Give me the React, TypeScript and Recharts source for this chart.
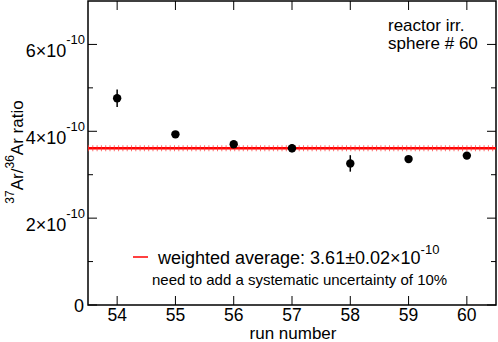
import React from 'react';
import { ScatterChart, Scatter, XAxis, YAxis, ErrorBar, ReferenceLine, ReferenceArea } from 'recharts';

// ratio values are in units of 1e-10
const runs = [54, 55, 56, 57, 58, 59, 60];
const ratios = [4.76, 3.93, 3.70, 3.61, 3.26, 3.36, 3.44];
const errors = [0.2, 0.04, 0.04, 0.09, 0.19, 0.04, 0.04];
const xTicks = [54, 55, 56, 57, 58, 59, 60];
const yTicks = [0, 2, 4, 6];
const yMinorTicks = [1, 3, 5];
const average = 3.61;

const data = runs.map((r, i) => ({ run: r, ratio: ratios[i], err: errors[i] }));

const FONT = '"Liberation Sans", Arial, Helvetica, sans-serif';

const XTick = (props: any) => {
    const { x, y, payload } = props;
    return (
        <text x={x} y={y + 15.5} textAnchor="middle" fontSize={17.5} fontFamily={FONT} fill="#000">
            {payload.value}
        </text>
    );
};

const YTick = (props: any) => {
    const { x, y, payload } = props;
    if (payload.value === 0) {
        return (
            <text x={x - 4} y={y + 6.5} textAnchor="end" fontSize={18} fontFamily={FONT} fill="#000">0</text>
        );
    }
    return (
        <text x={x - 3} y={y + 12.5} textAnchor="end" fontSize={18} fontFamily={FONT} fill="#000">
            {payload.value}×10<tspan dy={-13} fontSize={13}>-10</tspan>
        </text>
    );
};

// inward tick marks on both sides of the frame
const yTickMark = (len: number) => (p: any) => {
    const left = Math.min(p.x1, p.x2);
    const right = Math.max(p.x1, p.x2);
    return (
        <g>
            <line x1={left} x2={left + len} y1={p.y1} y2={p.y1} stroke="#000" strokeWidth={1} />
            <line x1={right - len} x2={right} y1={p.y1} y2={p.y1} stroke="#000" strokeWidth={1} />
        </g>
    );
};

const xTickMark = (len: number) => (p: any) => {
    const top = Math.min(p.y1, p.y2);
    const bottom = Math.max(p.y1, p.y2);
    return (
        <g>
            <line x1={p.x1} x2={p.x1} y1={bottom - len} y2={bottom} stroke="#000" strokeWidth={1} />
            <line x1={p.x1} x2={p.x1} y1={top} y2={top + len} stroke="#000" strokeWidth={1} />
        </g>
    );
};

const averageLine = (p: any) => (
    <g>
        <line x1={p.x1} x2={p.x2} y1={p.y1} y2={p.y2} stroke="#ff0000" strokeWidth={2.5} />
        <line x1={p.x1} x2={p.x2} y1={p.y1} y2={p.y2} stroke="#ff3030" strokeWidth={6} strokeDasharray="1 3.3" opacity={0.7} />
    </g>
);

const dot = (p: any) => <circle cx={p.cx} cy={p.cy} r={4.2} fill="#000" />;

const App: React.FC = () => {
    return (
        <div style={{ position: 'absolute', left: 0, top: 0, width: 498, height: 342, background: '#fff' }}>
            <ScatterChart width={498} height={342} margin={{ top: 1, right: 2, left: 0, bottom: 0 }}>
                <XAxis
                    type="number"
                    dataKey="run"
                    domain={[53.5, 60.5]}
                    ticks={xTicks}
                    tick={<XTick />}
                    tickLine={false}
                    axisLine={false}
                    tickSize={0}
                    tickMargin={0}
                    height={37}
                    allowDataOverflow
                />
                <YAxis
                    type="number"
                    dataKey="ratio"
                    domain={[0, 7]}
                    ticks={yTicks}
                    tick={<YTick />}
                    tickLine={false}
                    axisLine={false}
                    tickSize={0}
                    tickMargin={0}
                    width={88}
                    allowDataOverflow
                />
                {yTicks.map((v) => (
                    <ReferenceLine key={'ym' + v} y={v} shape={yTickMark(9)} />
                ))}
                {yMinorTicks.map((v) => (
                    <ReferenceLine key={'yn' + v} y={v} shape={yTickMark(5)} />
                ))}
                {xTicks.map((v) => (
                    <ReferenceLine key={'xm' + v} x={v} shape={xTickMark(9)} />
                ))}
                <ReferenceLine y={average} shape={averageLine} />
                <ReferenceArea x1={53.5} x2={60.5} y1={0} y2={7} fill="none" stroke="#000" strokeWidth={1.5} />
                <Scatter data={data} fill="#000" shape={dot} isAnimationActive={false}>
                    <ErrorBar dataKey="err" direction="y" width={0} stroke="#000" strokeWidth={1.5} isAnimationActive={false} />
                </Scatter>
            </ScatterChart>
            <svg width={498} height={342} style={{ position: 'absolute', left: 0, top: 0, pointerEvents: 'none' }} fontFamily={FONT}>
                <text x={388} y={31} fontSize={17} fill="#000">reactor irr.</text>
                <text x={388} y={49} fontSize={17} fill="#000">sphere # 60</text>
                <line x1={133} x2={148} y1={257} y2={257} stroke="#ff0000" strokeWidth={1.5} />
                <text x={158} y={264} fontSize={18} fill="#000">
                    weighted average: 3.61±0.02×10<tspan dy={-10} fontSize={13}>-10</tspan>
                </text>
                <text x={152} y={285} fontSize={15} fill="#000">need to add a systematic uncertainty of 10%</text>
                <text x={293} y={338.5} fontSize={17} textAnchor="middle" fill="#000">run number</text>
                <text transform="translate(23,152) rotate(-90)" fontSize={17} textAnchor="middle" fill="#000">
                    <tspan dy={-9} fontSize={12}>37</tspan>
                    <tspan dy={9}>Ar/</tspan>
                    <tspan dy={-9} fontSize={12}>36</tspan>
                    <tspan dy={9}>Ar ratio</tspan>
                </text>
            </svg>
        </div>
    );
};

export default App;
